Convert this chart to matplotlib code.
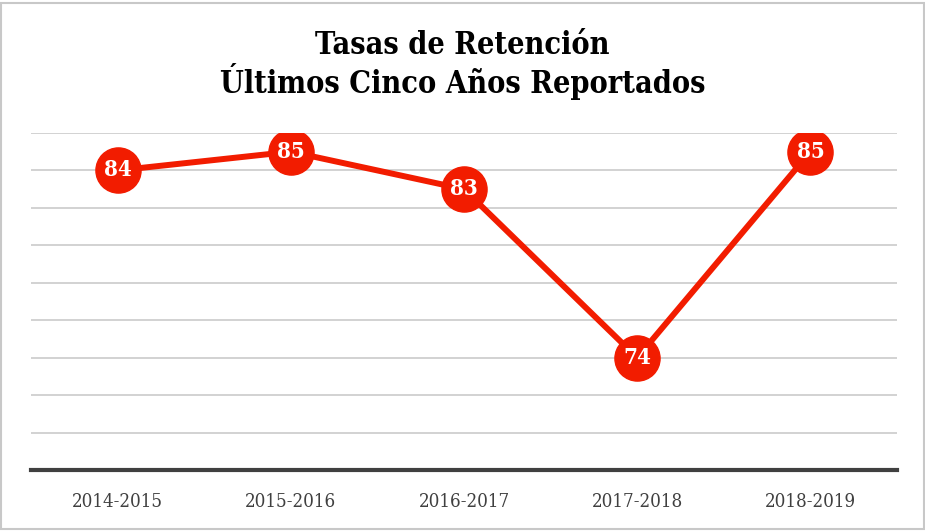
import matplotlib.pyplot as plt
from matplotlib.patches import Rectangle


years = ["2014-2015", "2015-2016", "2016-2017", "2017-2018", "2018-2019"]
rates = [84, 85, 83, 74, 85]

COL_LINE = "#f21c00"
COL_GRID = "#cfcfcf"
COL_AXIS = "#404040"

plt.rcParams.update({
    "font.family": ["DejaVu Serif"],
    "font.stretch": "condensed",
})


def main():
    fig = plt.figure(figsize=(9.25, 5.32), dpi=100)
    ax = fig.add_axes([31 / 925, 62 / 532, 866 / 925, 337 / 532])

    x = list(range(len(years)))
    ax.plot(x, rates, color=COL_LINE, lw=4.3, solid_joinstyle="miter",
            marker="o", ms=32.5, mfc=COL_LINE, mec=COL_LINE, zorder=3)
    for xi, v in zip(x, rates):
        ax.text(xi, v, str(v), ha="center", va="center", color="white",
                fontsize=16, fontweight="bold", zorder=4)

    ax.set_xlim(-0.5, len(years) - 0.5)
    ax.set_ylim(68, 86)
    ax.set_yticks(range(70, 87, 2))
    ax.yaxis.grid(True, color=COL_GRID, lw=1.3)
    ax.set_axisbelow(True)
    ax.tick_params(left=False, labelleft=False, bottom=False)
    ax.set_xticks(x)
    ax.set_xticklabels(years, fontsize=13.5, color=COL_AXIS)
    ax.tick_params(axis="x", pad=13)
    for s in ["top", "right", "left"]:
        ax.spines[s].set_visible(False)
    ax.spines["bottom"].set_color(COL_AXIS)
    ax.spines["bottom"].set_linewidth(3)

    fig.text(0.5, 1 - 45 / 532, "Tasas de Retención", ha="center",
             va="center", fontsize=22, fontweight="heavy")
    fig.text(0.5, 1 - 82 / 532, "Últimos Cinco Años Reportados", ha="center",
             va="center", fontsize=22, fontweight="heavy")

    fig.patches.append(Rectangle((1 / 925, 3 / 532), 923 / 925, 526 / 532,
                                 transform=fig.transFigure, fill=False,
                                 edgecolor="#c8c8c8", lw=1.5))

    fig.savefig("out.png", dpi=100)


if __name__ == "__main__":
    main()
